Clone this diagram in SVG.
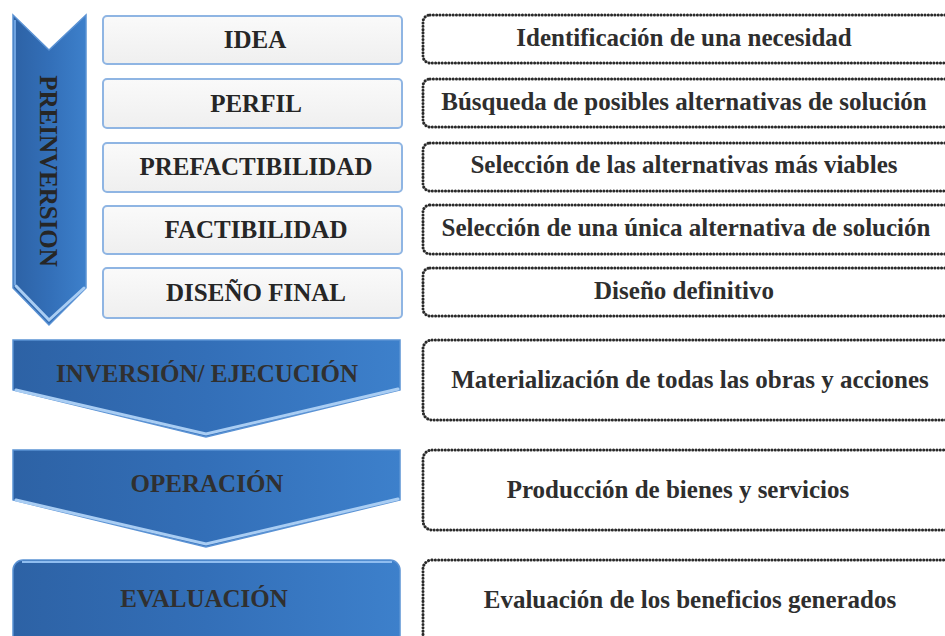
<svg xmlns="http://www.w3.org/2000/svg" width="945" height="636" viewBox="0 0 945 636">
<defs>
<linearGradient id="blue" x1="0" y1="0" x2="1" y2="0">
<stop offset="0" stop-color="#2d62a5"/>
<stop offset="0.5" stop-color="#336fb8"/>
<stop offset="1" stop-color="#3d80cb"/>
</linearGradient>
<linearGradient id="light" x1="0" y1="0" x2="0" y2="1">
<stop offset="0" stop-color="#fafafa"/>
<stop offset="1" stop-color="#efefef"/>
</linearGradient>
</defs>
<style>
.blue{fill:url(#blue);stroke:#5a92d4;stroke-width:1.5}
.bevel{fill:none;stroke:#a9cdf3;stroke-width:3;stroke-linecap:round}
.lbox{fill:url(#light);stroke:#8fb5e3;stroke-width:2}
.dbox{fill:none;stroke:#2a2a2a;stroke-width:3;stroke-dasharray:0.1 3.2;stroke-linecap:round}
.t{font-family:"Liberation Serif","Times New Roman",serif;font-weight:bold;fill:#262626;text-anchor:middle}
.lt{font-size:25px}
.rt{font-size:25px;fill:#2e2e2e}
.bt{font-size:25px;fill:#303030}
</style>

<g id="preinversion">
<polygon class="blue" points="13,15 49,50 86,15 86,288 49,325 13,288"/>
<polyline class="bevel" points="16,286 49,320 84,288"/>
<line x1="15" y1="20" x2="15" y2="285" stroke="#6fa3e0" stroke-width="2"/>
<text class="t lt" transform="translate(40,171) rotate(90)">PREINVERSION</text>
</g>

<g id="idea"><rect class="lbox" x="103" y="16" width="299" height="48" rx="4"/><text class="t lt" x="255" y="48">IDEA</text></g>
<g id="perfil"><rect class="lbox" x="103" y="79" width="299" height="49" rx="4"/><text class="t lt" x="256" y="112">PERFIL</text></g>
<g id="prefactibilidad"><rect class="lbox" x="103" y="143" width="299" height="49" rx="4"/><text class="t lt" x="256" y="175">PREFACTIBILIDAD</text></g>
<g id="factibilidad"><rect class="lbox" x="103" y="206" width="299" height="48" rx="4"/><text class="t lt" x="256" y="238">FACTIBILIDAD</text></g>
<g id="diseno"><rect class="lbox" x="103" y="268" width="299" height="50" rx="4"/><text class="t lt" x="256" y="301">DISEÑO FINAL</text></g>

<g id="inversion">
<polygon class="blue" points="13,340 400,340 400,390 206,437 13,390"/>
<polyline class="bevel" points="16,390 206,434 398,389"/>
<text class="t bt" x="207" y="382">INVERSIÓN/ EJECUCIÓN</text>
</g>
<g id="operacion">
<polygon class="blue" points="13,450 400,450 400,500 206,547 13,500"/>
<polyline class="bevel" points="16,500 206,544 398,499"/>
<text class="t bt" x="207" y="492">OPERACIÓN</text>
</g>
<g id="evaluacion">
<rect class="blue" x="13" y="560" width="387" height="100" rx="10"/>
<line x1="22" y1="562" x2="392" y2="562" stroke="#8fbdf0" stroke-width="2"/>
<text class="t bt" x="204" y="607">EVALUACIÓN</text>
</g>

<g id="desc1"><rect class="dbox" x="423" y="15" width="540" height="48" rx="7"/><text class="t rt" x="684" y="46">Identificación de una necesidad</text></g>
<g id="desc2"><rect class="dbox" x="423" y="79" width="540" height="48" rx="7"/><text class="t rt" x="684" y="110">Búsqueda de posibles alternativas de solución</text></g>
<g id="desc3"><rect class="dbox" x="423" y="143" width="540" height="48" rx="7"/><text class="t rt" x="684" y="173">Selección de las alternativas más viables</text></g>
<g id="desc4"><rect class="dbox" x="423" y="205" width="540" height="49" rx="7"/><text class="t rt" x="686" y="236">Selección de una única alternativa de solución</text></g>
<g id="desc5"><rect class="dbox" x="423" y="268" width="540" height="48" rx="7"/><text class="t rt" x="684" y="299">Diseño definitivo</text></g>
<g id="desc6"><rect class="dbox" x="423" y="340" width="540" height="80" rx="9"/><text class="t rt" x="690" y="388">Materialización de todas las obras y acciones</text></g>
<g id="desc7"><rect class="dbox" x="423" y="450" width="540" height="80" rx="9"/><text class="t rt" x="678" y="498">Producción de bienes y servicios</text></g>
<g id="desc8"><rect class="dbox" x="423" y="560" width="540" height="100" rx="9"/><text class="t rt" x="690" y="608">Evaluación de los beneficios generados</text></g>
<g id="connectors"/>
</svg>
